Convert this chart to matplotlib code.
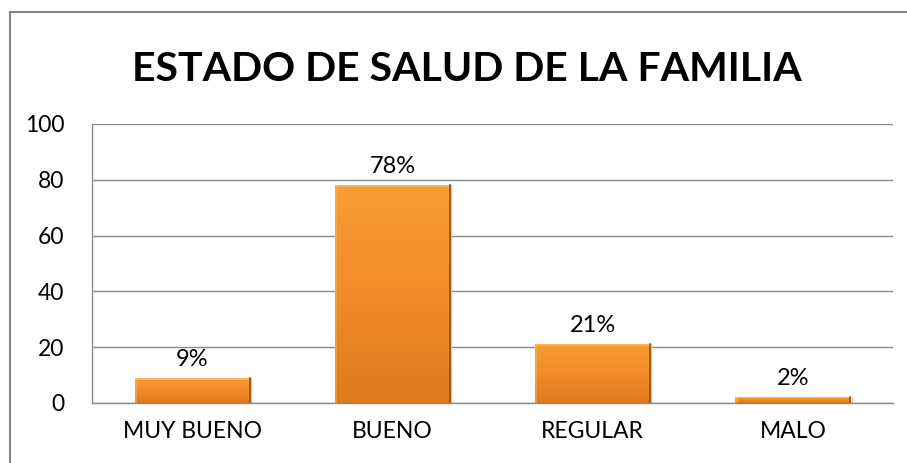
import numpy as np
import matplotlib.pyplot as plt
from matplotlib.colors import LinearSegmentedColormap
from matplotlib.patches import Rectangle

# Data
categorias = ['MUY BUENO', 'BUENO', 'REGULAR', 'MALO']
valores = [9, 78, 21, 2]
etiquetas = ['9%', '78%', '21%', '2%']
y_ticks = [0, 20, 40, 60, 80, 100]

plt.rcParams['font.family'] = ['Lato', 'DejaVu Sans']

fig = plt.figure(figsize=(9.07, 4.63), dpi=100)
ax = fig.add_axes([0.1014, 0.1296, 0.8832, 0.6026])

# outer chart border (left and top visible only)
fig.add_artist(plt.Line2D([0.0105, 0.0105], [0, 1 - 11.5 / 463], transform=fig.transFigure,
                          color='#868686', lw=1.5))
fig.add_artist(plt.Line2D([0.0105, 1], [1 - 11.5 / 463, 1 - 11.5 / 463], transform=fig.transFigure,
                          color='#868686', lw=1.5))

ancho = 0.575
x = np.arange(len(categorias))

cmap = LinearSegmentedColormap.from_list('naranja', ['#DE7A1F', '#F28C29', '#FA9C34'])
grad = np.linspace(0, 1, 256).reshape(-1, 1)

bars = ax.bar(x, valores, width=ancho, color='none', edgecolor='none', zorder=3)
for b in bars:
    x0, w, h = b.get_x(), b.get_width(), b.get_height()
    im = ax.imshow(grad, cmap=cmap, aspect='auto', origin='lower',
                   extent=[x0, x0 + w, 0, h], zorder=3)
    clip = Rectangle((x0, 0), w, h, transform=ax.transData)
    im.set_clip_path(clip)
    # bevel highlight on top/left, shadow on right/bottom
    bev = min(0.6, h * 0.15)
    ax.add_patch(Rectangle((x0, h - bev), w, bev, facecolor='#FFC46A', alpha=0.6,
                           edgecolor='none', zorder=4))
    ax.add_patch(Rectangle((x0, 0), 0.012, h, facecolor='#FFB455', alpha=0.5,
                           edgecolor='none', zorder=4))
    ax.plot([x0 + w, x0 + w], [0, h], color='#9A4E12', lw=1.2, zorder=5)
    ax.plot([x0, x0 + w], [0, 0], color='#9A4E12', lw=1.0, zorder=5)
    ax.plot([x0 + w + 0.006, x0 + w + 0.006], [0, h], color='#c8c8c8', lw=1.0, zorder=2)

for xi, v, t in zip(x, valores, etiquetas):
    ax.text(xi, v + 3, t, ha='center', va='bottom', fontsize=17, color='#000000')

ax.set_xlim(-0.5, 3.5)
ax.set_ylim(0, 100)
ax.set_yticks(y_ticks)
ax.set_xticks(x)
ax.set_xticklabels(categorias, fontsize=16.5)
ax.tick_params(axis='both', length=0, colors='#000000')
ax.tick_params(axis='y', pad=20, labelsize=16.5)
ax.tick_params(axis='x', pad=13)
ax.grid(axis='y', color='#8c8c8c', lw=1.0, zorder=0)
ax.set_axisbelow(True)
for s in ['top', 'right']:
    ax.spines[s].set_visible(False)
for s in ['left', 'bottom']:
    ax.spines[s].set_color('#8c8c8c')
    ax.spines[s].set_linewidth(1.0)

fig.text(0.515, 0.85, 'ESTADO DE SALUD DE LA FAMILIA', ha='center', va='center',
         fontsize=29.5, fontweight='bold', color='#000000')

fig.savefig('out.png', dpi=100)
